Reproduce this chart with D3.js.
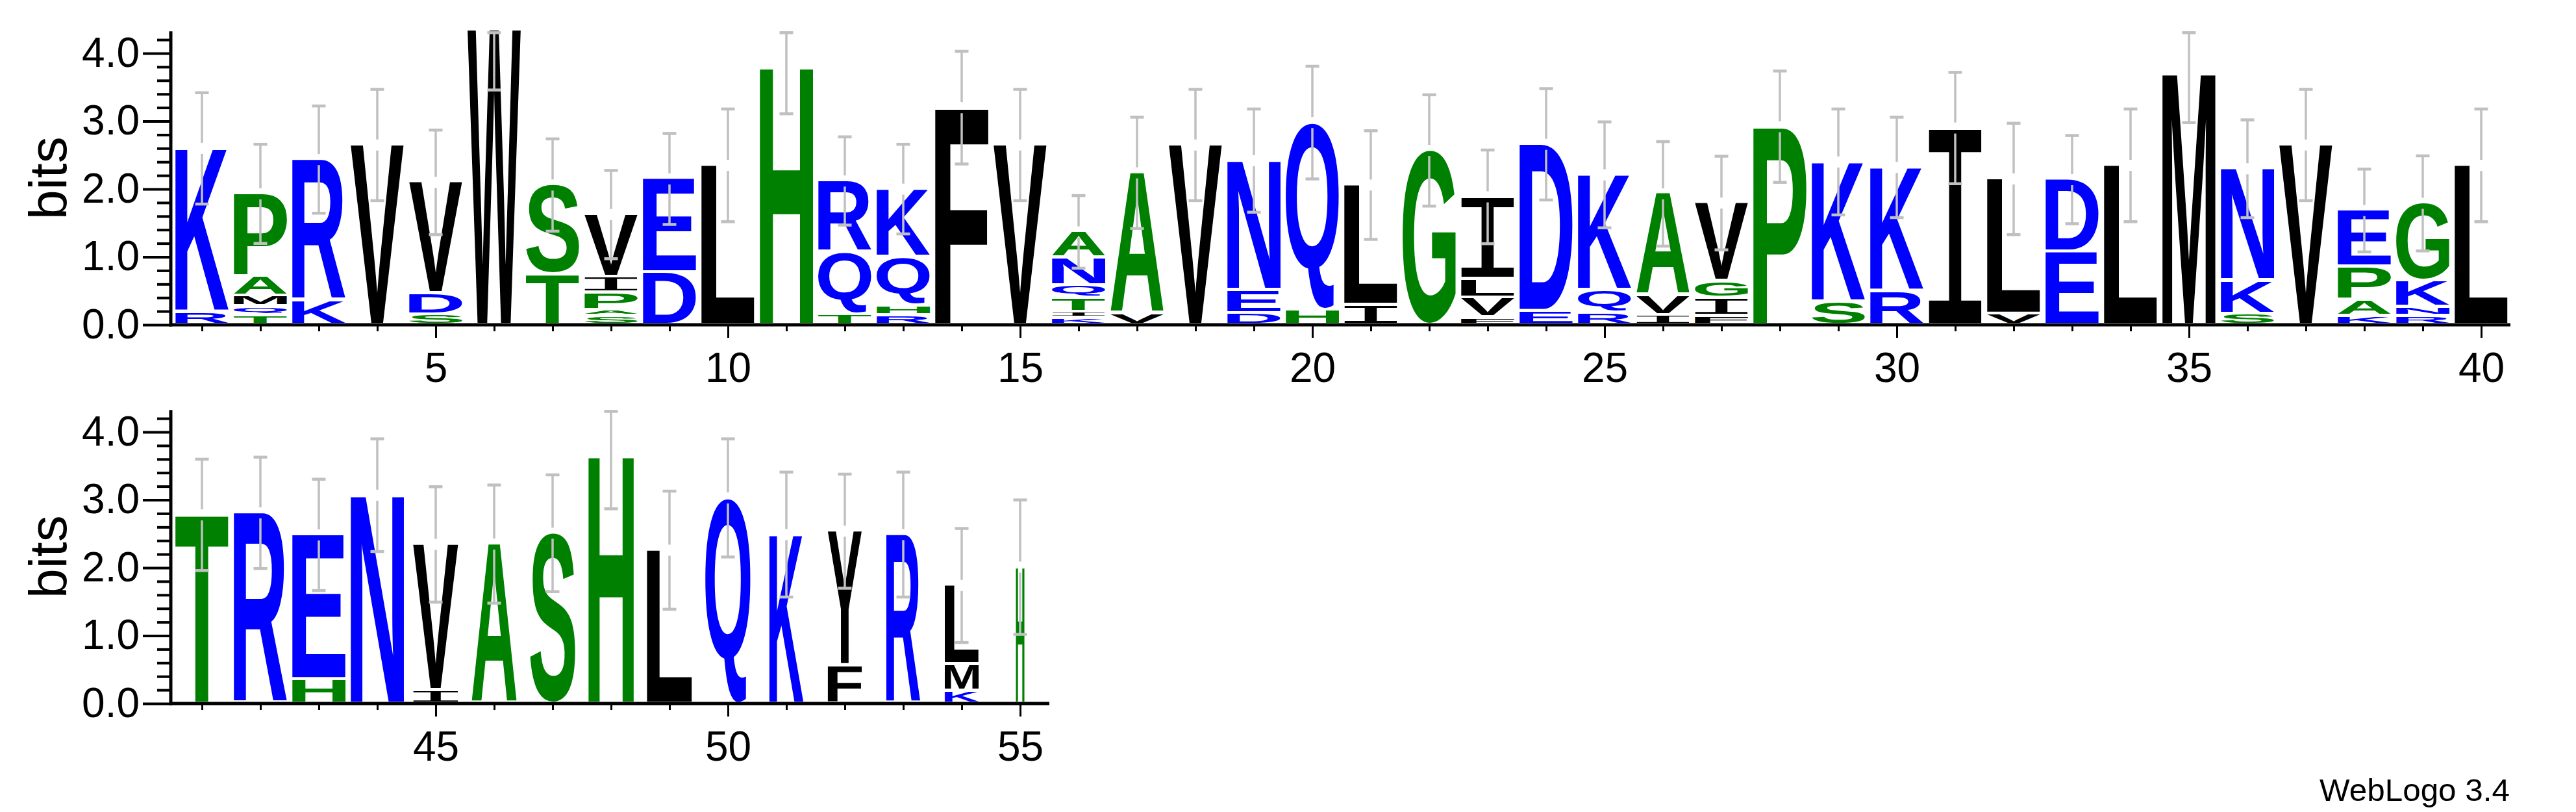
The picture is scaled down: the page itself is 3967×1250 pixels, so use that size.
<!DOCTYPE html>
<html><head><meta charset="utf-8">
<script src="https://cdn.jsdelivr.net/npm/d3@7"></script>
<style>html,body{margin:0;padding:0;background:#fff;}svg{display:block;}</style>
</head><body>
<svg id="chart" width="3967" height="1250"></svg>
<script>
// ---------- DATA ----------
const positions = d3.range(1, 56);
// letters of each stack, bottom -> top
const stackLetters = [
  "RK","TQMAP","KR","V","SDV","W","TS","SAPIV","DE","L",
  "H","TQR","RHQK","F","V","KITQNA","VA","V","DEN","HQ",
  "IL","G","FVLI","ED","RQK","IVA","FIGV","P","SK","RK",
  "I","VL","ED","L","M","SKN","V","KAPE","RNKG","L",
  "T","R","HE","N","IV","A","S","H","L","Q",
  "K","FY","R","KML","H"
];
// bits of each letter, bottom -> top
const stackBits = [
  [0.15,2.42],[0.10,0.13,0.15,0.29,1.23],[0.315,2.09],[2.62],[0.11,0.31,1.65],
  [4.32],[0.70,1.33],[0.085,0.09,0.26,0.23,0.93],[0.73,1.39],[2.32],
  [3.77],[0.11,0.92,1.06],[0.10,0.14,0.72,1.01],[3.17],[2.62],
  [0.055,0.09,0.205,0.19,0.41,0.39],[0.12,2.09],[2.62],[0.13,0.34,1.92],[0.18,2.77],
  [0.25,1.78],[2.54],[0.066,0.29,0.28,1.22],[0.16,2.47],[0.14,0.33,1.71],
  [0.10,0.29,1.51],[0.085,0.27,0.25,1.16],[2.89],[0.30,2.07],[0.46,1.83],
  [2.87],[0.12,2.00],[1.04,1.07],[2.32],[3.68],
  [0.12,0.49,1.66],[2.62],[0.085,0.24,0.49,0.84],[0.085,0.135,0.39,1.15],[2.32],
  [2.75],[2.78],[0.315,2.14],[3.04],[0.155,2.16],
  [2.32],[2.48],[3.62],[2.23],[3.00],
  [2.46],[0.52,1.99],[2.46],[0.15,0.39,1.17],[1.98]
];
// error (bits) around each stack top
const stackErrors = [
  0.82,0.73,0.79,0.82,0.77,0.89,0.68,0.65,0.67,0.83,
  0.69,0.65,0.66,0.83,0.82,0.535,0.82,0.82,0.76,0.83,
  0.80,0.82,0.69,0.82,0.78,0.77,0.69,0.82,0.78,0.74,
  0.82,0.82,0.65,0.83,0.73,0.72,0.82,0.61,0.70,0.83,
  0.82,0.82,0.82,0.83,0.85,0.87,0.86,0.78,0.87,0.87,
  0.92,0.84,0.92,0.84,0.99
];
// fraction of full stack width (sequence weight)
const stackWeights = [
  1,1,1,1,1,1,1,1,1,1, 1,1,1,1,1,1,1,1,1,1,
  1,1,1,1,1,1,1,1,1,1, 1,1,1,1,1,1,1,1,1,1,
  1,1,1,1,0.85,0.85,0.85,0.85,0.85,0.85,
  0.64,0.64,0.64,0.64,0.16
];
const yTickValues = [0, 1, 2, 3, 4];
const yMinorTicks = [0.2,0.4,0.6,0.8,1.2,1.4,1.6,1.8,2.2,2.4,2.6,2.8,3.2,3.4,3.6,3.8,4.2];
const rows = [{first: 1, last: 40}, {first: 41, last: 55}];
const hydrophilic = "RKDENQ", neutral = "SGHTAP", hydrophobic = "YVMCLFIW";

// ---------- LAYOUT ----------
const W = 3967, H = 1250;
const rowBase = [500, 1083];
const X0 = 266, BAND = 90, LETTER_W = 82;
const PX_PER_BIT = 104.5, YMAX = Math.log2(20);
const GAP = 4.8, ERR_GAP = 8.5;
const FONT = "'Liberation Sans', Arial, Helvetica, sans-serif";
const FONT_I = "'Liberation Mono', 'DejaVu Sans Mono', monospace";
const color = ch => hydrophilic.includes(ch) ? "#0000ff" : neutral.includes(ch) ? "#008000" : "#000000";

const svg = d3.select("#chart");
svg.append("rect").attr("width", W).attr("height", H).attr("fill", "#fff");

const ctx = document.createElement("canvas").getContext("2d");
const inkCache = {};
function ink(ch) {
  if (inkCache[ch]) return inkCache[ch];
  const fam = ch === "I" ? FONT_I : FONT;
  const wt = ch === "I" ? "normal" : "bold";
  ctx.font = `${wt} 200px ${fam}`;
  const m = ctx.measureText(ch);
  return inkCache[ch] = {l: m.actualBoundingBoxLeft, r: m.actualBoundingBoxRight,
                         a: m.actualBoundingBoxAscent, d: m.actualBoundingBoxDescent, fam, wt};
}

rows.forEach((r, ri) => {
  const base = rowBase[ri];
  const n = r.last - r.first + 1;
  const x = d3.scaleLinear().domain([r.first - 0.5, r.last + 0.5]).range([X0, X0 + BAND * n]);
  const y = d3.scaleLinear().domain([0, YMAX]).range([base, base - YMAX * PX_PER_BIT]);
  const ys = v => y(v) - 3; // stack baseline sits just above axis line
  const g = svg.append("g");
  const rowPos = positions.filter(p => p >= r.first && p <= r.last);

  // letters
  const letters = g.append("g");
  rowPos.forEach(p => {
    const i = p - 1;
    const chars = stackLetters[i].split("");
    const bits = stackBits[i];
    const bw = LETTER_W * stackWeights[i];
    const bx = x(p) - bw / 2;
    let cum = 0;
    chars.forEach((ch, j) => {
      const yTop = ys(cum + bits[j]);
      let yBot = ys(cum) - (j > 0 ? GAP : 0);
      if (yBot - yTop < 1.5) yBot = yTop + 1.5;
      cum += bits[j];
      const k = ink(ch);
      const sx = bw / (k.l + k.r), sy = (yBot - yTop) / (k.a + k.d);
      letters.append("text").text(ch)
        .attr("font-family", k.fam).attr("font-weight", k.wt).attr("font-size", 200)
        .attr("fill", color(ch))
        .attr("transform", `translate(${bx + k.l * sx},${yTop + k.a * sy}) scale(${sx},${sy})`);
    });
  });

  // error bars
  const eb = g.append("g").attr("stroke", "#c0c0c0").attr("fill", "#c0c0c0");
  rowPos.forEach(p => {
    const i = p - 1;
    const total = d3.sum(stackBits[i]);
    const cx = x(p);
    const yTop = ys(total);
    const yLow = ys(total - stackErrors[i]);
    const clipped = total + stackErrors[i] > YMAX;
    const yUp = clipped ? y(YMAX) + 2 : ys(total + stackErrors[i]);
    if (clipped) {
      eb.append("line").attr("x1", cx).attr("x2", cx).attr("y1", yUp).attr("y2", yLow).attr("stroke-width", 3.5);
    } else {
      eb.append("line").attr("x1", cx).attr("x2", cx).attr("y1", yTop + ERR_GAP).attr("y2", yLow).attr("stroke-width", 3.5);
      eb.append("line").attr("x1", cx).attr("x2", cx).attr("y1", yUp).attr("y2", yTop - ERR_GAP).attr("stroke-width", 3.5);
    }
    [yLow, yUp].forEach(yy => eb.append("rect").attr("x", cx - 10.5).attr("y", yy - 2.25).attr("width", 21).attr("height", 4.5).attr("stroke", "none"));
  });

  // axes
  const yAx = g.append("g").attr("transform", "translate(263,0)")
    .call(d3.axisLeft(y).tickValues(yTickValues).tickSize(43).tickPadding(5).tickFormat(d3.format(".1f")));
  yAx.select(".domain").remove();
  yAx.attr("font-size", 64).attr("font-family", FONT);
  yAx.selectAll("line").attr("stroke", "#000").attr("stroke-width", 4);
  yAx.selectAll("text").attr("fill", "#000");

  const yMin = g.append("g").attr("transform", "translate(263,0)")
    .call(d3.axisLeft(y).tickValues(yMinorTicks).tickSize(21).tickFormat(""));
  yMin.select(".domain").remove();
  yMin.selectAll("line").attr("stroke", "#000").attr("stroke-width", 4);

  const xMinor = g.append("g").attr("transform", `translate(0,${base + 2})`)
    .call(d3.axisBottom(x).tickValues(rowPos.filter(p => p % 5 !== 0)).tickSize(8).tickFormat(""));
  xMinor.select(".domain").remove();
  xMinor.selectAll("line").attr("stroke", "#000").attr("stroke-width", 3);

  const xMajor = g.append("g").attr("transform", `translate(0,${base + 2})`)
    .call(d3.axisBottom(x).tickValues(rowPos.filter(p => p % 5 === 0)).tickSize(18).tickPadding(23).tickFormat(d3.format("d")));
  xMajor.select(".domain").remove();
  xMajor.attr("font-size", 64).attr("font-family", FONT);
  xMajor.selectAll("line").attr("stroke", "#000").attr("stroke-width", 3);
  xMajor.selectAll("text").attr("fill", "#000");

  // axis lines
  g.append("line").attr("x1", 263).attr("x2", 263).attr("y1", y(YMAX)).attr("y2", base + 2.5)
    .attr("stroke", "#000").attr("stroke-width", 5);
  g.append("line").attr("x1", 261).attr("x2", X0 + BAND * n).attr("y1", base).attr("y2", base)
    .attr("stroke", "#000").attr("stroke-width", 5);

  // y label
  g.append("text").text("bits")
    .attr("transform", `translate(102,${(y(0) + y(YMAX)) / 2}) rotate(-90)`)
    .attr("text-anchor", "middle").attr("font-family", FONT).attr("font-size", 82).attr("fill", "#000");
});

svg.append("text").text("WebLogo 3.4").attr("x", 3865).attr("y", 1233)
  .attr("text-anchor", "end").attr("font-family", FONT).attr("font-size", 49)
  .attr("textLength", 293).attr("lengthAdjust", "spacingAndGlyphs").attr("fill", "#000");
</script>
</body></html>
